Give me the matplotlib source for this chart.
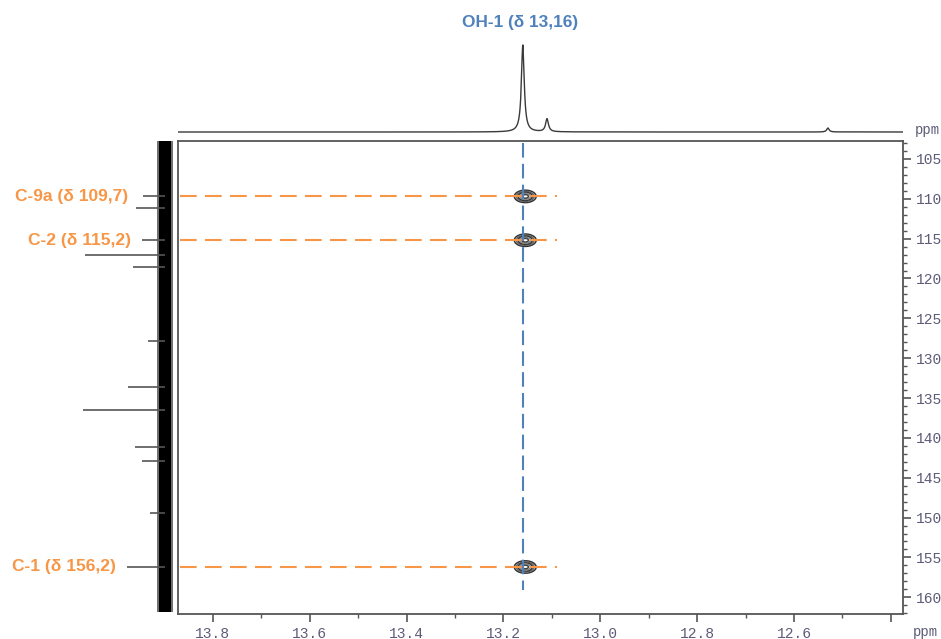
import numpy as np
import matplotlib
matplotlib.use("Agg")
import matplotlib.pyplot as plt
from matplotlib.ticker import MultipleLocator

# 1H projection (top): peak positions (ppm), heights, half widths
h_shift = [13.16, 13.11, 12.53]
h_height = [87, 13, 4]
h_hwhm = [0.0035, 0.0035, 0.003]

# 13C projection (left): peak positions (ppm) and intensities
c_shift = [109.7, 111.2, 115.2, 117.0, 118.5, 127.9, 133.6, 136.5, 141.1, 142.9, 149.4, 156.2]
c_int = [22, 29, 23, 80, 32, 17, 37, 82, 30, 23, 15, 38]

# HMBC cross peaks
cross_h = [13.155, 13.155, 13.155]
cross_c = [109.7, 115.2, 156.2]

labels_c = ["C-9a (δ 109,7)", "C-2 (δ 115,2)", "C-1 (δ 156,2)"]
label_x = [37, 34, 49]
title_h = "OH-1 (δ 13,16)"

x_lim = (13.872, 12.375)
y_lim = (162.1, 102.75)

blue = "#4f81bd"
orange = "#f79646"
tick_col = "#5c5c78"
frame_col = "#555555"

fig = plt.figure(figsize=(9.41, 6.39), dpi=100)
W, H = 941, 639

def box(x0, y0, x1, y1):
    return [x0 / W, 1 - y1 / H, (x1 - x0) / W, (y1 - y0) / H]

ax = fig.add_axes(box(178, 141, 903, 614))
ax_top = fig.add_axes(box(178, 30, 903, 135))
ax_side = fig.add_axes(box(60, 141, 178, 614))

# main 2D panel
ax.set_xlim(*x_lim)
ax.set_ylim(*y_lim)
for s in ax.spines.values():
    s.set_color(frame_col)
    s.set_linewidth(1.3)
ax.yaxis.tick_right()
ax.set_xticks([13.8, 13.6, 13.4, 13.2, 13.0, 12.8, 12.6, 12.4])
ax.set_xticklabels(["13.8", "13.6", "13.4", "13.2", "13.0", "12.8", "12.6", ""])
ax.xaxis.set_minor_locator(MultipleLocator(0.1))
ax.set_yticks(np.arange(105, 161, 5))
ax.yaxis.set_minor_locator(MultipleLocator(1))
ax.tick_params(which="major", direction="out", length=6, width=1.2, color=frame_col,
               labelcolor=tick_col, labelsize=10.5, pad=3)
ax.tick_params(which="minor", direction="out", length=3, width=1.0, color=frame_col)
for lab in ax.get_xticklabels() + ax.get_yticklabels():
    lab.set_family("Liberation Mono")
fig.text(925 / W, 1 - 632 / H, "ppm", ha="center", va="center", color=tick_col,
         family="Liberation Mono", fontsize=10)

# cross peaks drawn as contours
gx = np.linspace(13.08, 13.24, 200)
gy = np.linspace(102.75, 162.1, 800)
GX, GY = np.meshgrid(gx, gy)
Z = np.zeros_like(GX)
for hx, cy in zip(cross_h, cross_c):
    Z += np.exp(-((GX - hx) ** 2) / (2 * 0.0145 ** 2) - ((GY - cy) ** 2) / (2 * 0.5 ** 2))
ax.contour(GX, GY, Z, levels=[0.3, 0.45, 0.6, 0.75, 0.9],
           colors=["#333333", "#666666", "#333333", "#888888", "#444444"], linewidths=1.1)

# correlation guides
ax.plot([13.16, 13.16], [103.0, 159.1], color=blue, lw=1.5, ls=(0, (7, 3)))
for cy in cross_c:
    ax.plot([13.868, 13.09], [cy, cy], color=orange, lw=1.5, ls=(0, (8, 4)))

# top 1H projection
xs = np.linspace(x_lim[1], x_lim[0], 4000)
spec = np.zeros_like(xs)
for c, hgt, g in zip(h_shift, h_height, h_hwhm):
    spec += hgt * g ** 2 / ((xs - c) ** 2 + g ** 2)
ax_top.plot(xs, spec, color="#3a3a3a", lw=1.0)
ax_top.set_xlim(*x_lim)
ax_top.set_ylim(-3, 102)
ax_top.axis("off")
fig.text(927 / W, 1 - 130 / H, "ppm", ha="center", va="center", color=tick_col,
         family="Liberation Mono", fontsize=10)
fig.text(520 / W, 1 - 22 / H, title_h, ha="center", va="center", color=blue,
         family="Liberation Sans", fontweight="bold", fontsize=12.4)

# left 13C projection
ax_side.set_ylim(*y_lim)
ax_side.set_xlim(105, -13)
ax_side.hlines(c_shift, 0, c_int, color="#555555", lw=1.2)
ax_side.fill_betweenx([102.75, 161.9], -8, 8, color="#333333", alpha=0.7, lw=0)
ax_side.fill_betweenx([102.75, 161.9], -6, 6, color="black", lw=0)
ax_side.axis("off")
for lab, lx, cy in zip(labels_c, label_x, cross_c):
    ax_side.text(lx, cy, lab, ha="right", va="center", color=orange,
                 family="Liberation Sans", fontweight="bold", fontsize=12.5)

fig.savefig("out.png", dpi=100)
